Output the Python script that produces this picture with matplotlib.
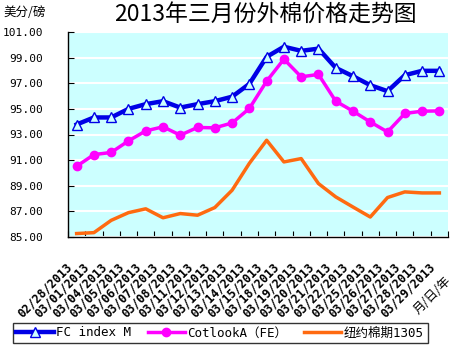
import numpy as np
import matplotlib
matplotlib.use("Agg")
from matplotlib import pyplot as plt
from matplotlib.transforms import ScaledTranslation

plt.rcParams['font.family'] = ['DejaVu Sans Mono', 'Noto Sans CJK SC']

# data
dates = ["02/28/2013", "03/01/2013", "03/04/2013", "03/05/2013", "03/06/2013",
         "03/07/2013", "03/08/2013", "03/11/2013", "03/12/2013", "03/13/2013",
         "03/14/2013", "03/15/2013", "03/18/2013", "03/19/2013", "03/20/2013",
         "03/21/2013", "03/22/2013", "03/25/2013", "03/26/2013", "03/27/2013",
         "03/28/2013", "03/29/2013"]
fcIndexM = [93.78, 94.33, 94.33, 95.00, 95.37, 95.60, 95.10, 95.37, 95.60, 95.95,
            96.95, 99.06, 99.85, 99.53, 99.70, 98.20, 97.55, 96.85, 96.38, 97.63,
            97.97, 97.97]
cotlookA = [90.52, 91.43, 91.60, 92.50, 93.28, 93.60, 92.95, 93.55, 93.52, 93.90,
            95.03, 97.16, 98.88, 97.50, 97.69, 95.60, 94.82, 93.98, 93.20, 94.64,
            94.82, 94.84]
nyFutures = [85.27, 85.34, 86.30, 86.90, 87.20, 86.50, 86.83, 86.70, 87.30, 88.65,
             90.75, 92.55, 90.86, 91.12, 89.17, 88.13, 87.34, 86.56, 88.08, 88.52,
             88.44, 88.44]
yTicks = [85, 87, 89, 91, 93, 95, 97, 99, 101]

bgColor = '#CCFFFF'

fig = plt.figure(figsize=(4.53, 3.47), dpi=100)
ax = fig.add_axes([68/453., 1-237/347., 380/453., 205/347.])
ax.set_facecolor(bgColor)

x = np.arange(len(dates))
ax.plot(x, fcIndexM, color='#0000E6', lw=3.2, marker='^', ms=7, mfc=bgColor,
        mec='#0000E6', mew=1, label='FC index M', zorder=4)
ax.plot(x, cotlookA, color='#FF00FF', lw=2.5, marker='o', ms=6, mfc='#FF00FF',
        mec='#FF00FF', label='CotlookA\uff08FE\uff09', zorder=3)
ax.plot(x, nyFutures, color='#FF6A10', lw=2.5, label='纽约棉期1305', zorder=3)

ax.set_xlim(-0.5, len(dates)-0.5)
ax.set_ylim(85, 101)
ax.set_yticks(yTicks)
ax.set_yticklabels(["%.2f" % v for v in yTicks], fontsize=8)
ax.yaxis.grid(True, color='white', lw=1.5)
ax.set_axisbelow(True)

ax.set_xticks(x)
ax.set_xticklabels(dates, fontsize=8.5, fontweight='bold', rotation=45,
                   ha='right', va='top', rotation_mode='anchor')
ax.set_xticks(np.arange(len(dates)+1)-0.5, minor=True)
ax.tick_params(axis='x', which='major', length=0, pad=17)
ax.tick_params(axis='x', which='minor', direction='in', length=4, width=0.8)
ax.tick_params(axis='y', direction='in', length=4, width=0.8, pad=18)
offset = ScaledTranslation(-8/72., 0, fig.dpi_scale_trans)
for lab in ax.get_xticklabels():
    lab.set_transform(lab.get_transform() + offset)

for side in ['top', 'right']:
    ax.spines[side].set_visible(False)
ax.spines['left'].set_linewidth(1)
ax.spines['bottom'].set_linewidth(1)

fig.text(265/453., 1-15/347., '2013年三月份外棉价格走势图', fontsize=16.5,
         ha='center', va='center', family=['Noto Sans CJK SC'])
fig.text(3/453., 1-12/347., '美分/磅', fontsize=9, ha='left', va='center',
         family=['Noto Sans CJK SC'])
# axis unit, written slanted like the date labels
ax.text(0.99, -0.18, '月/日/年', transform=ax.transAxes, fontsize=9,
        rotation=45, rotation_mode='anchor', ha='right', va='top',
        family=['Noto Sans CJK SC'], clip_on=False)

leg = fig.legend(loc='center', bbox_to_anchor=(220/453., 1-333/347.), ncol=3,
                 fontsize=9, frameon=True, fancybox=False, edgecolor='black',
                 handlelength=3.0, columnspacing=1.3, handletextpad=0.2,
                 borderpad=0.3, borderaxespad=0)
leg.get_frame().set_linewidth(1)

plt.savefig("out.png", dpi=100)
